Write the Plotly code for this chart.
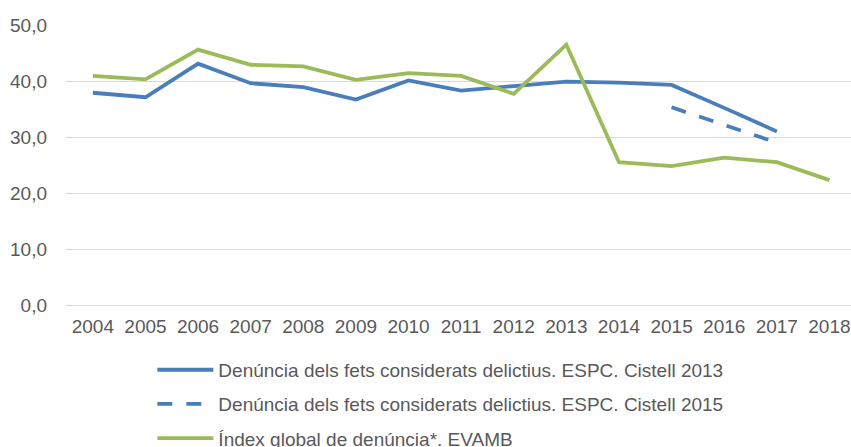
import plotly.graph_objects as go

years = [str(y) for y in range(2004, 2019)]
cistell2013 = [37.9, 37.1, 43.1, 39.6, 38.9, 36.7, 40.1, 38.3, 39.1, 39.9, 39.7, 39.3, 35.2, 31.0, None]
cistell2015 = [None] * 11 + [35.3, 32.1, 29.0, None]
evamb = [40.9, 40.3, 45.6, 42.9, 42.6, 40.2, 41.4, 40.9, 37.7, 46.5, 25.5, 24.8, 26.3, 25.5, 22.3]

names = [
    "Denúncia dels fets considerats delictius. ESPC. Cistell 2013",
    "Denúncia dels fets considerats delictius. ESPC. Cistell 2015",
    "Índex global de denúncia*. EVAMB",
]

BLUE = "#4A7EBB"
GREEN = "#9BBB59"
FONT = "Liberation Sans, Arial, sans-serif"
GREY = "#595959"

fig = go.Figure()
fig.add_trace(go.Scatter(x=years, y=cistell2013, name=names[0], mode="lines",
                         line=dict(color=BLUE, width=3.8), legendgroup="a"))
fig.add_trace(go.Scatter(x=years, y=cistell2015, name=names[1], mode="lines",
                         line=dict(color=BLUE, width=3.8, dash="15px,14px"), legendgroup="b"))
fig.add_trace(go.Scatter(x=years, y=evamb, name=names[2], mode="lines",
                         line=dict(color=GREEN, width=3.8), legendgroup="c"))

fig.update_layout(
    width=851, height=447,
    margin=dict(l=66, r=0, t=25, b=142, autoexpand=False),
    paper_bgcolor="white", plot_bgcolor="white",
    font=dict(family=FONT, size=19, color=GREY),
    separators=",.",
    showlegend=True,
    legend=dict(orientation="v", x=0.11, xanchor="left", y=-0.164, yanchor="top",
                font=dict(size=19, color=GREY), itemwidth=56, tracegroupgap=6.5,
                bgcolor="rgba(0,0,0,0)"),
    xaxis=dict(type="category", range=[-0.51, 14.41], showgrid=False, showline=False,
               ticks="", tickfont=dict(size=19, color=GREY), fixedrange=True,
               automargin=False, ticklabelstandoff=8),
    yaxis=dict(range=[0, 50], dtick=10, tickformat=".1f", showgrid=True,
               gridcolor="#D9D9D9", gridwidth=1.3, zeroline=True, zerolinecolor="#D9D9D9",
               zerolinewidth=1.3, showline=False, ticks="", ticklabelstandoff=18,
               tickfont=dict(size=19, color=GREY), fixedrange=True, automargin=False),
)

fig.write_html("out.html", config={"displayModeBar": False},
               post_script="document.body.style.margin='0px';document.body.style.overflow='hidden';")
